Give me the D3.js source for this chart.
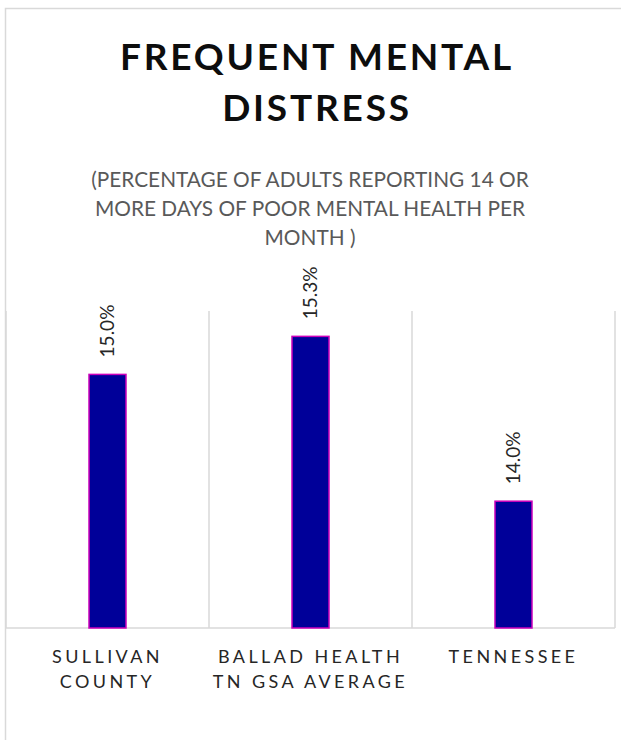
<!DOCTYPE html>
<html><head><meta charset="utf-8">
<script src="https://cdn.jsdelivr.net/npm/d3@7/dist/d3.min.js"></script>
<style>body{margin:0;background:#fff}svg{display:block}</style>
</head><body>
<svg id="c" width="621" height="740"></svg>
<script>
const categories = [["SULLIVAN","COUNTY"],["BALLAD HEALTH","TN GSA AVERAGE"],["TENNESSEE"]];
const values = [15.0, 15.3, 14.0];
const valueLabels = ["15.0%","15.3%","14.0%"];
const titleLines = ["FREQUENT MENTAL","DISTRESS"];
const subtitleLines = ["(PERCENTAGE OF ADULTS REPORTING 14 OR","MORE DAYS OF POOR MENTAL HEALTH PER","MONTH )"];
const yDomain = [13, 15.5];

const svg = d3.select("#c");
const font = "Lato, 'Open Sans', sans-serif";
svg.append("rect").attr("x",5.5).attr("y",8.5).attr("width",640).attr("height",760)
  .attr("fill","#fff").attr("stroke","#d9d9d9").attr("stroke-width",1.5);

const m = {left:6, right:615, top:311, bottom:628};
const x = d3.scaleBand().domain(d3.range(categories.length)).range([m.left, m.right]).paddingInner(0).paddingOuter(0);
const y = d3.scaleLinear().domain(yDomain).range([m.bottom, m.top]);

// title
const t = svg.append("text").attr("text-anchor","middle").attr("font-family",font)
  .attr("font-weight","bold").attr("font-size",37).attr("letter-spacing",2.8).attr("fill","#0d0d0d");
titleLines.forEach((s,i)=>t.append("tspan").attr("x",317).attr("y",70+i*50.5).text(s));

const st = svg.append("text").attr("text-anchor","middle").attr("font-family",font)
  .attr("font-size",20.8).attr("fill","#595959");
subtitleLines.forEach((s,i)=>st.append("tspan").attr("x",310).attr("y",187+i*29).text(s));

// gridlines (vertical, category boundaries)
const bounds = d3.range(categories.length+1).map(i => i<categories.length ? x(i) : x(categories.length-1)+x.bandwidth());
svg.selectAll(".g").data(bounds).enter().append("line")
  .attr("x1",d=>d).attr("x2",d=>d).attr("y1",m.top).attr("y2",m.bottom)
  .attr("stroke","#d9d9d9").attr("stroke-width",1.5);

// baseline
svg.append("line").attr("x1",m.left).attr("x2",m.right).attr("y1",m.bottom).attr("y2",m.bottom)
  .attr("stroke","#d9d9d9").attr("stroke-width",1.5);

const bw = 37;
svg.selectAll(".bar").data(values).enter().append("rect")
  .attr("x",(d,i)=>x(i)+x.bandwidth()/2-bw/2).attr("width",bw)
  .attr("y",d=>y(d)).attr("height",d=>m.bottom-y(d))
  .attr("fill","#000099").attr("stroke","#cc00bb").attr("stroke-width",1.5);

svg.selectAll(".vl").data(values).enter().append("text")
  .attr("transform",(d,i)=>`translate(${x(i)+x.bandwidth()/2+6.5},${y(d)-17}) rotate(-90)`)
  .attr("text-anchor","start").attr("font-family",font).attr("font-size",19).attr("fill","#262626")
  .text((d,i)=>valueLabels[i]);

categories.forEach((lines,i)=>{
  const tx = svg.append("text").attr("text-anchor","middle").attr("font-family",font)
    .attr("font-size",18).attr("letter-spacing",3.4).attr("fill","#262626");
  lines.forEach((s,j)=>tx.append("tspan").attr("x",x(i)+x.bandwidth()/2).attr("y",663+j*25).text(s));
});
</script>
</body></html>
